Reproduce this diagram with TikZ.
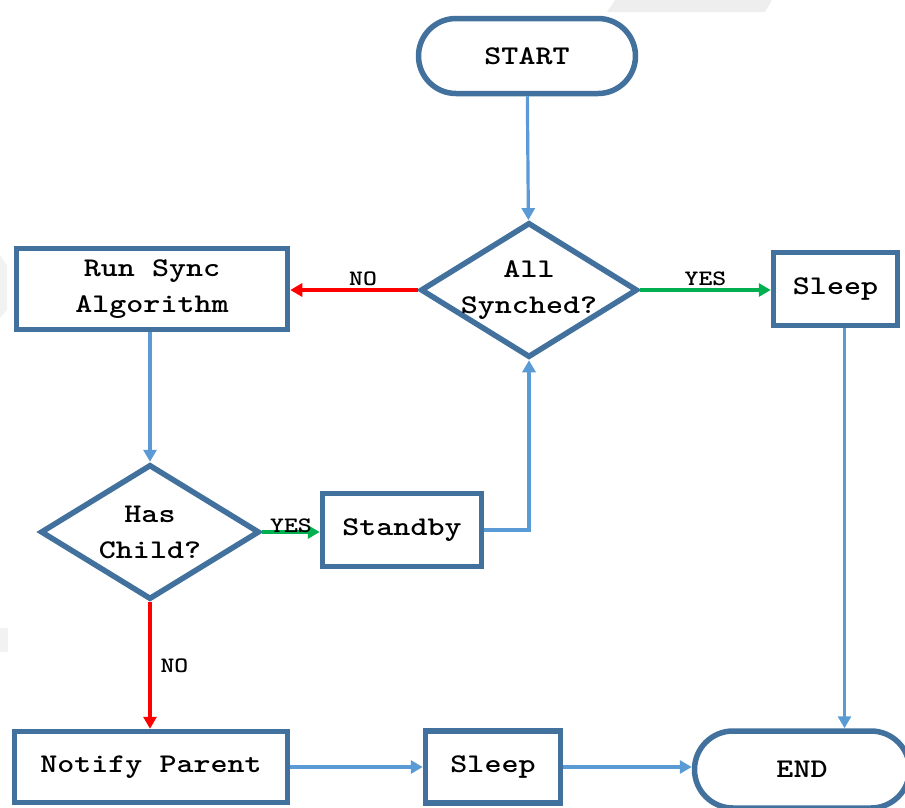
\documentclass[tikz,border=0pt]{standalone}
\usepackage{fontspec}
\setmonofont{lmmono10-regular.otf}[BoldFont=lmmonolt10-bold.otf, FakeStretch=1.2]
\usetikzlibrary{shapes,arrows.meta,positioning,calc}
\definecolor{boxblue}{HTML}{41719C}
\definecolor{linkblue}{HTML}{5B9BD5}
\definecolor{yesgreen}{HTML}{00B050}

\begin{document}
\begin{tikzpicture}[
        x=1pt, y=-1pt,
        font=\ttfamily\bfseries\fontsize{27}{36}\selectfont,
        process/.style={draw=boxblue, line width=5.5pt, rectangle, fill=white, align=center, inner sep=0pt},
        terminal/.style={draw=boxblue, line width=5.5pt, rounded rectangle, fill=white, inner sep=0pt},
        decision/.style={draw=boxblue, line width=5.5pt, diamond, aspect=1.6, fill=white, align=center, inner sep=-10pt},
        flow/.style={draw=linkblue, line width=3.2pt, -{Triangle[length=12pt,width=13pt]}},
        yesflow/.style={flow, draw=yesgreen},
        noflow/.style={flow, draw=red},
        tag/.style={font=\ttfamily\bfseries\fontsize{22}{26}\selectfont, inner sep=3pt}
    ]
    \useasboundingbox (0,0) rectangle (905,807);
    % faint background marks
    \fill[gray!13] (615,0) -- (772,0) -- (765,12) -- (607,12) -- cycle;
    \fill[gray!10] (0,255) -- (7,265) -- (7,310) -- (0,318) -- cycle;
    \fill[gray!10] (0,628) rectangle (8,652);

    \node[terminal, minimum width=217pt, minimum height=75pt] (start) at (527,56) {START};
    \node[decision, minimum width=217pt, minimum height=135pt] (synched) at (529,290) {All\\Synched?};
    \node[process, minimum width=271pt, minimum height=81pt] (runsync) at (152,289) {Run Sync\\Algorithm};
    \node[process, minimum width=124pt, minimum height=73pt] (sleepA) at (835.5,289) {Sleep};
    \node[decision, minimum width=219pt, minimum height=135pt] (haschild) at (150,532) {Has\\Child?};
    \node[process, minimum width=159pt, minimum height=73pt] (standby) at (402,530) {Standby};
    \node[process, minimum width=273pt, minimum height=71pt] (notify) at (151,767) {Notify Parent};
    \node[process, minimum width=135pt, minimum height=72pt] (sleepB) at (493,767) {Sleep};
    \node[terminal, minimum width=215pt, minimum height=77pt] (endN) at (802,769.5) {END};

    \draw[flow] (start) -- (synched);
    \draw[noflow] (synched.west) -- node[tag, above, xshift=9pt] {NO} (runsync.east |- synched.west);
    \draw[yesflow] (synched.east) -- node[tag, above] {YES} (sleepA.west |- synched.east);
    \draw[flow] (runsync.south -| haschild.north) -- (haschild.north);
    \draw[yesflow] (haschild.east) -- node[tag, above, yshift=-5pt] {YES} (standby.west |- haschild.east);
    \draw[flow] (standby.east) -| (synched.south);
    \draw[noflow] (haschild.south) -- node[tag, right, xshift=6pt] {NO} (haschild.south |- notify.north);
    \draw[flow] ([xshift=9pt]sleepA.south) -- ([xshift=9pt]sleepA.south |- endN.north);
    \draw[flow] (notify.east) -- (sleepB.west |- notify.east);
    \draw[flow] (sleepB.east) -- (endN.west |- sleepB.east);
\end{tikzpicture}
\end{document}
